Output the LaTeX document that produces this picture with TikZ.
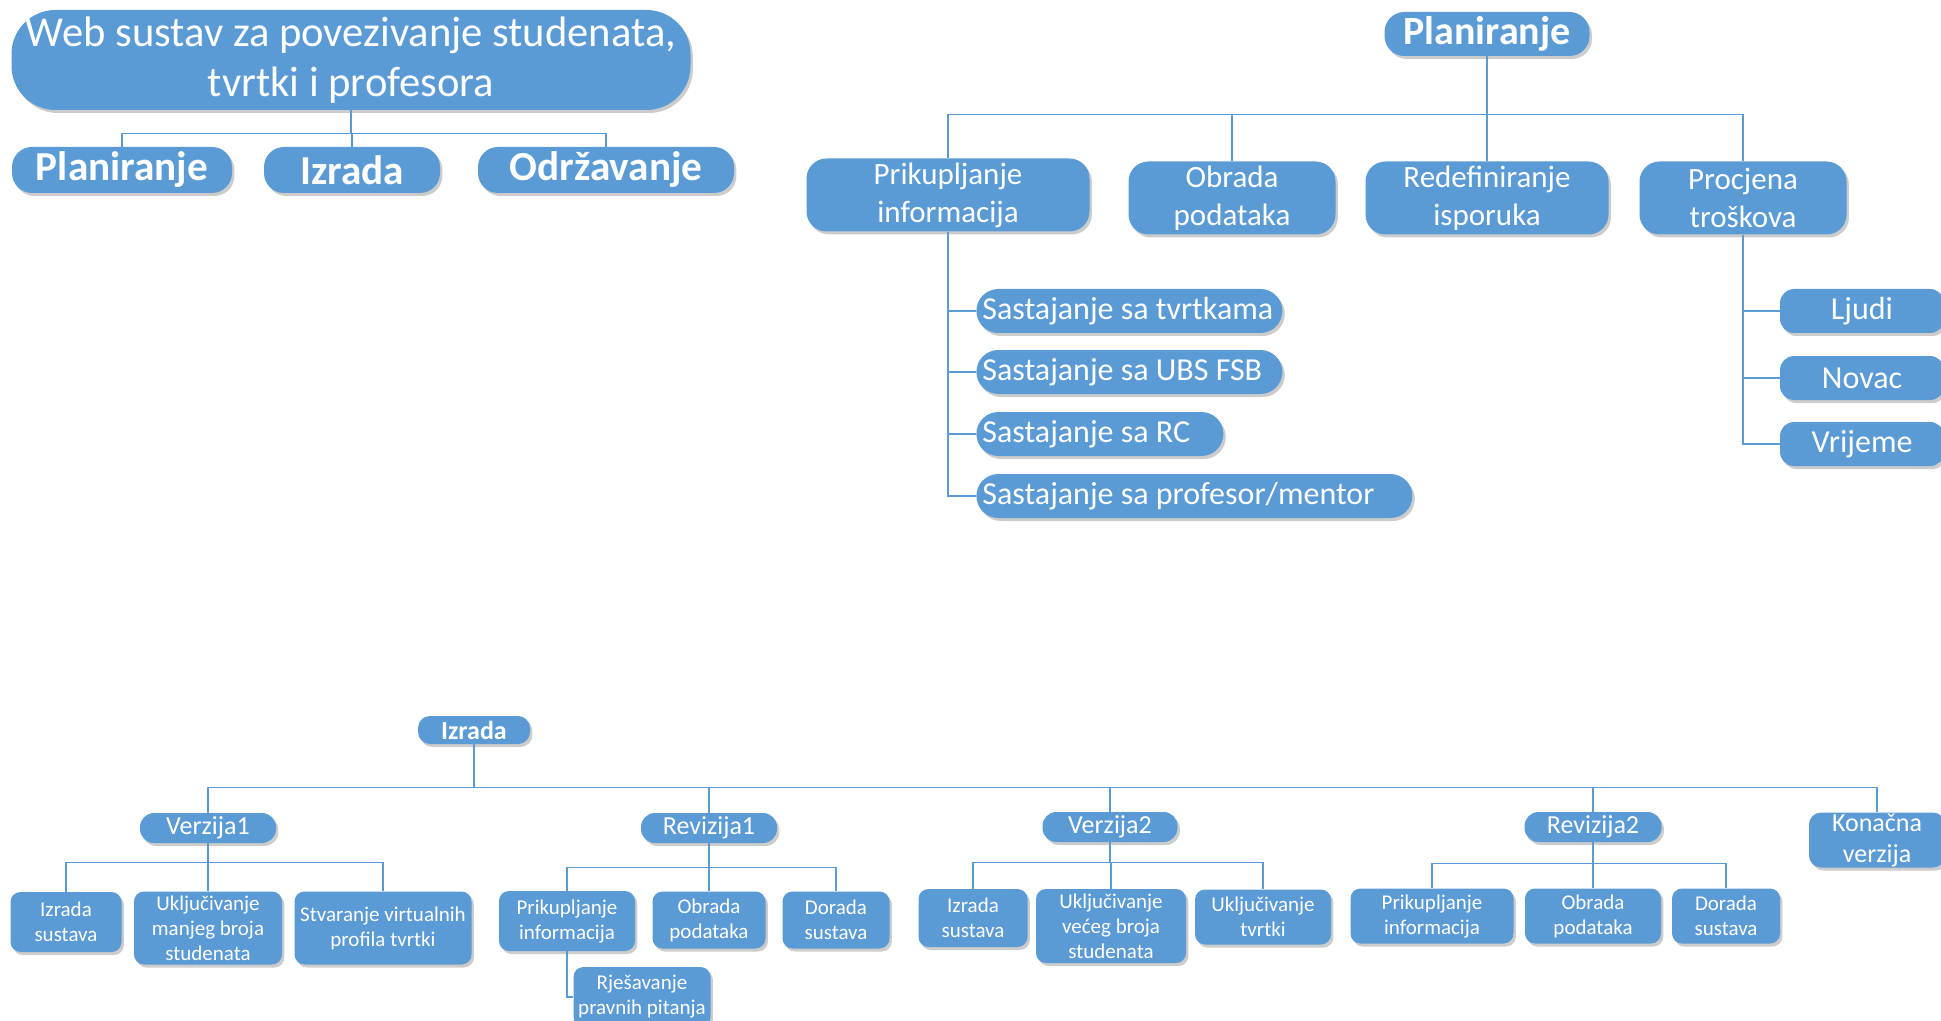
\documentclass[tikz,border=0pt]{standalone}
\usepackage{fontspec}
\setmainfont{Carlito}
\usetikzlibrary{shadows}
\definecolor{boxblue}{HTML}{5B9BD5}
\newcommand\fTitle{\fontsize{21.3}{25}\selectfont}
\newcommand\fBig{\fontsize{20.6}{24}\selectfont\bfseries}
\newcommand\fBigR{\fontsize{20}{24}\selectfont\bfseries}
\newcommand\fMid{\fontsize{15.5}{19}\selectfont}
\newcommand\fSas{\fontsize{16}{19}\selectfont}
\newcommand\fSub{\fontsize{13}{15.5}\selectfont}
\newcommand\fSubB{\fontsize{13}{15.5}\selectfont\bfseries}
\newcommand\fLeaf{\fontsize{10.5}{12.5}\selectfont}
\newcommand\lbox[2]{\makebox[#1pt][l]{#2}}
\tikzset{
  bx/.style={rectangle, fill=boxblue, text=white, rounded corners=#1, align=center, inner sep=0pt,
    drop shadow={shadow xshift=1.2pt, shadow yshift=-1.5pt, fill=black, opacity=0.2}},
  bx/.default=6pt,
  wh/.style 2 args={minimum width=#1pt, minimum height=#2pt},
  conn/.style={draw=boxblue, line width=0.8pt},
  sas/.style={bx=11pt, anchor=west, minimum height=22pt, inner xsep=3pt, font=\fSas},
}
\begin{document}
\begin{tikzpicture}[x=0.5pt, y=-0.5pt]
\useasboundingbox (0,0) rectangle (1941,1021);
\clip (0,0) rectangle (1941,1021);

% ---------- top left ----------
\node[bx=22pt, wh={339.5}{50}, font=\fTitle] (title) at (351,60) {Web sustav za povezivanje studenata,\\tvrtki i profesora};
\node[bx=10pt, wh={110}{23}, font=\fBig] (p1) at (122,170) {Planiranje};
\node[bx=10pt, wh={88}{23}, font=\fBig] (p2) at (352,170) {Izrada};
\node[bx=10pt, wh={128}{23}, font=\fBig] (p3) at (606,170) {Održavanje};
\foreach \n in {p1,p2,p3} \draw[conn] (title.south) -- ++(0,23) -| (\n.north);

% ---------- top right ----------
\node[bx=10pt, wh={102.5}{22}, font=\fBigR] (P) at (1487,34) {Planiranje};
\node[bx=10pt, wh={141.5}{36.5}, font=\fMid] (pi) at (948,195) {Prikupljanje\\informacija};
\node[bx=10pt, wh={103.5}{36.5}, font=\fMid] (po) at (1232,198) {Obrada\\podataka};
\node[bx=10pt, wh={121.5}{36.5}, font=\fMid] (pr) at (1487,198) {Redefiniranje\\isporuka};
\node[bx=10pt, wh={103.5}{36.5}, font=\fMid] (pt) at (1743,198) {Procjena\\troškova};
\foreach \n in {pi,po,pr,pt} \draw[conn] (P.south) -- ++(0,58) -| (\n.north);

\node[sas] (s1) at (976,311) {\lbox{147}{Sastajanje sa tvrtkama}};
\node[sas] (s2) at (976,372) {\lbox{147}{Sastajanje sa UBS FSB}};
\node[sas] (s3) at (976,434) {\lbox{117.5}{Sastajanje sa RC}};
\node[sas] (s4) at (976,496) {\lbox{212}{Sastajanje sa profesor/mentor}};
\foreach \n in {s1,s2,s3,s4} \draw[conn] (pi.south) |- (\n.west);

\node[bx=7pt, wh={82}{22}, font=\fSas] (lj) at (1862,311) {Ljudi};
\node[bx=7pt, wh={82}{22}, font=\fSas] (nv) at (1862,378) {Novac};
\node[bx=7pt, wh={82}{22}, font=\fSas] (vr) at (1862,444) {Vrijeme};
\foreach \n in {lj,nv,vr} \draw[conn] (pt.south) |- (\n.west);

% ---------- bottom ----------
\node[bx=6pt, wh={56}{14}, font=\fSubB] (iz) at (474,730) {Izrada};
\node[bx=7pt, wh={68}{15}, font=\fSub] (v1) at (208,828) {Verzija1};
\node[bx=7pt, wh={68}{15}, font=\fSub] (r1) at (709,828) {Revizija1};
\node[bx=7pt, wh={67.5}{15}, font=\fSub] (v2) at (1110,827) {Verzija2};
\node[bx=7pt, wh={68.5}{15}, font=\fSub] (r2) at (1593,827) {Revizija2};
\node[bx=6pt, wh={68}{27.5}, font=\fSub] (kv) at (1877,840) {Konačna\\verzija};
\foreach \n in {v1,r1,v2,r2,kv} \draw[conn] (iz.south) -- ++(0,43) -| (\n.north);

\node[bx=5pt, wh={55.5}{30}, font=\fLeaf] (a1) at (66,922) {Izrada\\sustava};
\node[bx=5pt, wh={74}{36.5}, font=\fLeaf] (a2) at (208,928) {Uključivanje\\manjeg broja\\studenata};
\node[bx=5pt, wh={88.5}{36.5}, font=\fLeaf] (a3) at (383,928) {Stvaranje virtualnih\\profila tvrtki};
\foreach \n in {a1,a2,a3} \draw[conn] (v1.south) -- ++(0,19) -| (\n.north);

\node[bx=5pt, wh={68}{30}, font=\fLeaf] (b1) at (567,921) {Prikupljanje\\informacija};
\node[bx=5pt, wh={56.5}{28.5}, font=\fLeaf] (b2) at (709,920) {Obrada\\podataka};
\node[bx=5pt, wh={53.5}{28.5}, font=\fLeaf] (b3) at (836,920) {Dorada\\sustava};
\foreach \n in {b1,b2,b3} \draw[conn] (r1.south) -- ++(0,24) -| (\n.north);
\node[bx=5pt, wh={68.5}{30}, font=\fLeaf] (b4) at (642,997) {Rješavanje\\pravnih pitanja};
\draw[conn] (b1.south) |- (b4.west);

\node[bx=5pt, wh={54.5}{29}, font=\fLeaf] (c1) at (973,918) {Izrada\\sustava};
\node[bx=5pt, wh={75}{37}, font=\fLeaf] (c2) at (1111,926) {Uključivanje\\većeg broja\\studenata};
\node[bx=5pt, wh={68}{27.5}, font=\fLeaf] (c3) at (1263,917) {Uključivanje\\tvrtki};
\foreach \n in {c1,c2,c3} \draw[conn] (v2.south) -- ++(0,20) -| (\n.north);

\node[bx=5pt, wh={81.5}{27.5}, font=\fLeaf] (d1) at (1432,916) {Prikupljanje\\informacija};
\node[bx=5pt, wh={68}{27.5}, font=\fLeaf] (d2) at (1593,916) {Obrada\\podataka};
\node[bx=5pt, wh={54}{27.5}, font=\fLeaf] (d3) at (1726,916) {Dorada\\sustava};
\foreach \n in {d1,d2,d3} \draw[conn] (r2.south) -- ++(0,21) -| (\n.north);
\end{tikzpicture}
\end{document}
